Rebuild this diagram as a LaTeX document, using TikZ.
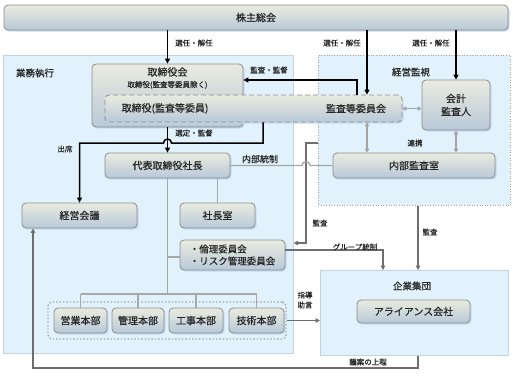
\documentclass[tikz,border=0pt]{standalone}
\usepackage{fontspec}
\setmainfont{Noto Sans CJK JP}[FakeBold=0.6]
\usetikzlibrary{arrows.meta,shadows}
\definecolor{boxtop}{HTML}{E9EBDF}
\definecolor{boxbot}{HTML}{B9C9D8}
\definecolor{boxline}{HTML}{8C8C8C}
\definecolor{regfill}{HTML}{E2F2FD}
\definecolor{regline}{HTML}{C3D3DF}
\definecolor{shadowc}{HTML}{C2D9EE}
\definecolor{arrgrey}{HTML}{6E6E6E}
\definecolor{lightg}{HTML}{A4A4A4}
\definecolor{treeg}{HTML}{A8A8A8}
\definecolor{txt}{HTML}{262626}
\tikzset{
  box/.style={draw=boxline, line width=0.8pt, rounded corners=4pt, top color=boxtop, bottom color=boxbot,
    drop shadow={shadow xshift=1.5pt, shadow yshift=-1.5pt, fill=shadowc, opacity=0.9},
    font=\fontsize{10}{12}\selectfont, text=txt, inner sep=0pt, align=center},
  lbl/.style={font=\fontsize{7.5}{9}\selectfont, text=txt, inner sep=0pt},
  reglbl/.style={font=\fontsize{9.5}{11}\selectfont, text=txt, inner sep=0pt},
  boxtxt/.style={font=\fontsize{10}{12}\selectfont, text=txt, inner sep=0pt},
  region/.style={fill=regfill, draw=regline, line width=0.6pt, inner sep=0pt, anchor=north west},
  blk/.style={line width=1.5pt, -{Triangle[length=5pt,width=5pt]}},
  gry/.style={line width=1.3pt, draw=arrgrey, -{Triangle[length=4.5pt,width=4.5pt]}},
  dbl/.style={line width=1.3pt, draw=lightg, {Triangle[length=4pt,width=4.5pt]}-{Triangle[length=4pt,width=4.5pt]}},
  tree/.style={line width=1.3pt, draw=treeg},
}
\begin{document}
\begin{tikzpicture}[x=1pt,y=-1pt]
\useasboundingbox (0,0) rectangle (513,376);
% regions
\node[region, minimum width=290pt, minimum height=298pt] (gyomu) at (3,55) {};
\node[region, dotted, draw=lightg, line width=0.7pt, minimum width=192pt, minimum height=150pt] (kanshi) at (318,55) {};
\node[region, minimum width=188pt, minimum height=85pt] (kigyo) at (320,270) {};
\node[reglbl] (lgyomu) at (35,73) {業務執行};
\node[reglbl] (lkanshi) at (411,72) {経営監視};
\node[reglbl] (lkigyo) at (412,286) {企業集団};
\node[draw=lightg, dotted, line width=1.4pt, rounded corners=4pt, minimum width=238pt, minimum height=37pt, inner sep=0pt] (deptgrp) at (167,320.5) {};
% boxes
\node[box, minimum width=504pt, minimum height=25pt] (kabu) at (256,17.5) {株主総会};
\node[box, minimum width=151pt, minimum height=63pt] (torikai) at (167.5,95.5) {};
\node[boxtxt] (t1) at (167.5,72) {取締役会};
\node[lbl] (t2) at (167.5,85) {取締役(監査等委員除く)};
\node[box, dashed, dash pattern=on 5pt off 3pt, draw=boxline, minimum width=297pt, minimum height=27pt] (kansa) at (253.5,108.5) {};
\node[boxtxt] (k1) at (165,108.5) {取締役(監査等委員)};
\node[boxtxt] (k2) at (356,108.5) {監査等委員会};
\node[box, minimum width=68pt, minimum height=50pt, font=\fontsize{10}{13}\selectfont] (kaikei) at (456,105) {会計\\監査人};
\node[box, minimum width=125pt, minimum height=25pt] (pres) at (167.5,165.5) {代表取締役社長};
\node[box, minimum width=162pt, minimum height=25pt] (naibu) at (414,165.5) {内部監査室};
\node[box, minimum width=115pt, minimum height=25pt] (keieikaigi) at (79.5,215.5) {経営会議};
\node[box, minimum width=75pt, minimum height=25pt] (shacho) at (217.5,215.5) {社長室};
\node[box, minimum width=105pt, minimum height=30pt, align=left, font=\fontsize{9.5}{12}\selectfont] (rinri) at (232.5,255) {・倫理委員会\\・リスク管理委員会};
\node[box, minimum width=113pt, minimum height=23pt] (alliance) at (413.5,311.5) {アライアンス会社};
\node[box, minimum width=53pt, minimum height=25pt] (eigyo) at (80.5,320.5) {営業本部};
\node[box, minimum width=52pt, minimum height=25pt] (kanri) at (138,320.5) {管理本部};
\node[box, minimum width=54pt, minimum height=25pt] (koji) at (196,320.5) {工事本部};
\node[box, minimum width=55pt, minimum height=25pt] (gijutsu) at (256.5,320.5) {技術本部};
% coordinates
\coordinate (x367) at (367,0);
\coordinate (p80) at (357,80);
\coordinate (q1) at (263,143);
\coordinate (h1) at (302,0);
\coordinate (a1) at (306,143);
\coordinate (a2) at (306,243);
\coordinate (g1) at (383,250);
\coordinate (k418) at (418,0);
\coordinate (b1) at (418,368);
\coordinate (b2) at (33,368);
\coordinate (t0) at (167.5,294);
\coordinate (r0) at (167.5,257);
% tree
\draw[tree] (pres.south) -- (t0);
\draw[tree] (eigyo.north |- t0) -- (gijutsu.north |- t0);
\foreach \n in {eigyo,kanri,koji,gijutsu} \draw[tree] (\n.north |- t0) -- (\n.north);
\draw[tree] (pres.south -| shacho.north) -- (shacho.north);
\draw[tree] (r0) -- (r0 -| rinri.west);
% black arrows
\draw[blk] (kabu.south -| torikai.north) -- (torikai.north);
\draw[blk] (kabu.south -| x367) -- (kansa.north -| x367);
\draw[blk] (kabu.south -| kaikei.north) -- (kaikei.north);
\draw[blk] (kansa.north -| p80) -- (p80) -- (p80 -| torikai.east);
\draw[blk] (torikai.south) -- (pres.north);
\draw[blk] (kansa.south -| q1) -- (q1) -- ++(-91.5,0) arc[start angle=0,end angle=180,radius=4pt] -- (q1 -| keieikaigi.north) -- (keieikaigi.north);
% grey lines
\draw[dbl] (kansa.east) -- (kansa.east -| kaikei.west);
\draw[dbl] (kansa.south -| x367) -- (naibu.north -| x367);
\draw[dbl] (kaikei.south) -- (naibu.north -| kaikei.south);
\draw[gry] (kanshi.west |- a1) -- (a1) -- (a2) -- (a2 -| gyomu.east);
\draw[line width=1.3pt, draw=lightg] (pres.east) -- (pres.east -| h1) arc[start angle=180,end angle=0,radius=4pt] -- (naibu.west);
\draw[gry] (rinri.east |- g1) -- (g1) -- (g1 |- kigyo.north);
\draw[gry] (kanshi.south -| k418) -- (kigyo.north -| k418);
\draw[gry] (deptgrp.east |- gijutsu.east) -- (gijutsu.east -| kigyo.west);
\draw[gry] (kigyo.south -| b1) -- (b1) -- (b2) -- (b2 |- keieikaigi.south);
% labels
\node[lbl, anchor=west] (l1) at (175,43) {選任・解任};
\node[lbl, anchor=west] (l2) at (323,43) {選任・解任};
\node[lbl, anchor=west] (l3) at (412,43) {選任・解任};
\node[lbl, anchor=west] (l4) at (250,70) {監査・監督};
\node[lbl, anchor=west] (l5) at (175,133) {選定・監督};
\node[lbl] (l6) at (65,149) {出席};
\node[font=\fontsize{9}{11}\selectfont, text=txt, inner sep=0pt] (l7) at (260,159) {内部統制};
\node[lbl] (l8) at (415,143) {連携};
\node[lbl] (l9) at (320,223) {監査};
\node[lbl] (l10) at (430,232) {監査};
\node[lbl] (l11) at (355,247) {グループ統制};
\node[lbl, align=center, font=\fontsize{7.5}{10}\selectfont] (l12) at (305,300) {指導\\助言};
\node[lbl] (l13) at (368,362) {議案の上程};
\end{tikzpicture}
\end{document}
